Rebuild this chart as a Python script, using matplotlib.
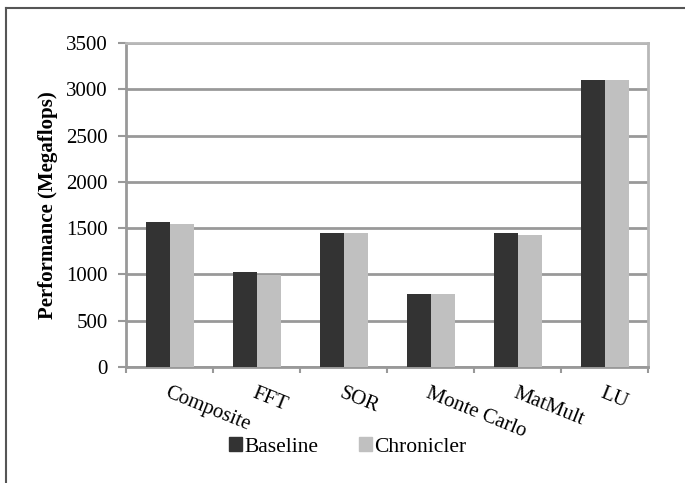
import numpy as np
import matplotlib.pyplot as plt
from matplotlib.patches import Rectangle

plt.rcParams['font.family'] = ['Liberation Serif', 'DejaVu Serif']

benchmarks = ['Composite', 'FFT', 'SOR', 'Monte Carlo', 'MatMult', 'LU']
baseline = [1570, 1025, 1450, 790, 1450, 3095]
chronicler = [1540, 990, 1450, 790, 1425, 3095]
yticks = [0, 500, 1000, 1500, 2000, 2500, 3000, 3500]

fig = plt.figure(figsize=(6.85, 4.83), dpi=100)
ax = fig.add_axes([0.184, 0.240, 0.762, 0.671])

x = np.arange(len(benchmarks))
w = 0.276
ax.bar(x - w/2, baseline, w, color='#333333', zorder=3)
ax.bar(x + w/2, chronicler, w, color='#c0c0c0', zorder=3)

ax.set_xlim(-0.5, len(benchmarks) - 0.5)
ax.set_ylim(0, 3500)
ax.set_yticks(yticks)
ax.yaxis.grid(True, color='#999999', linewidth=2, zorder=0)
ax.tick_params(axis='y', direction='out', length=6, width=1.5, color='#999999',
               pad=7, labelsize=15)

ax.set_xticks(x)
ax.set_xticklabels(benchmarks, rotation=-22, ha='left', va='top',
                   rotation_mode='anchor', fontsize=15)
ax.tick_params(axis='x', length=0, pad=12)
ax.set_xticks(np.arange(len(benchmarks) + 1) - 0.5, minor=True)
ax.tick_params(axis='x', which='minor', direction='out', length=4, width=1.5,
               color='#999999')

for s in ['left', 'bottom']:
    ax.spines[s].set_color('#999999')
    ax.spines[s].set_linewidth(2)
for s in ['top', 'right']:
    ax.spines[s].set_color('#b8b8b8')
    ax.spines[s].set_linewidth(2)

ax.set_ylabel('Performance (Megaflops)', fontsize=15, fontweight='bold', labelpad=6)

handles = [Rectangle((0, 0), 1, 1, color='#333333'),
           Rectangle((0, 0), 1, 1, color='#c0c0c0')]
fig.legend(handles, ['Baseline', 'Chronicler'], loc='center',
           bbox_to_anchor=(348/685, 1 - 447/483), ncol=2, frameon=False,
           fontsize=15.5, handlelength=0.6, handleheight=0.6, handletextpad=0.1,
           columnspacing=1.9)

# outer frame (top and left edges visible)
fig.add_artist(plt.Line2D([6/685, 6/685], [0, 1 - 8/483], transform=fig.transFigure,
                          color='#555555', linewidth=1.5))
fig.add_artist(plt.Line2D([6/685, 1], [1 - 8/483, 1 - 8/483], transform=fig.transFigure,
                          color='#555555', linewidth=1.5))

fig.savefig('out.png', dpi=100)
